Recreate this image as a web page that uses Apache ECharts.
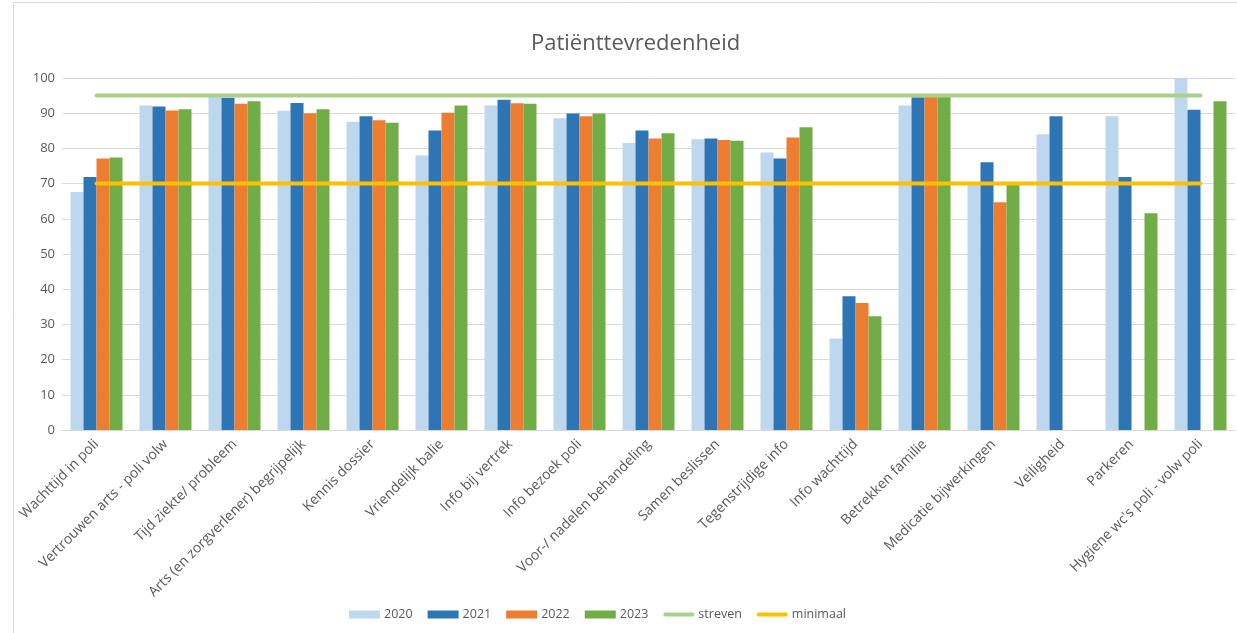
<!DOCTYPE html>
<html>
<head>
<meta charset="utf-8">
<script src="https://cdn.jsdelivr.net/npm/echarts@6/dist/echarts.min.js"></script>
<style>
html,body{margin:0;padding:0;background:#fff;}
#c{width:1237px;height:633px;}
</style>
</head>
<body>
<div id="c"></div>
<script>
const categories = ["Wachttijd in poli","Vertrouwen arts - poli volw","Tijd ziekte/ probleem","Arts (en zorgverlener) begrijpelijk","Kennis dossier","Vriendelijk balie","Info bij vertrek","Info bezoek poli","Voor-/ nadelen behandeling","Samen beslissen","Tegenstrijdige info","Info wachttijd","Betrekken familie","Medicatie bijwerkingen","Veiligheid","Parkeren","Hygiene wc's poli - volw poli"];
const v2020 = [67.6, 92.2, 94.7, 90.7, 87.6, 78.0, 92.2, 88.6, 81.5, 82.6, 78.8, 26.0, 92.2, 69.8, 84.0, 89.1, 100];
const v2021 = [71.9, 91.9, 94.4, 92.9, 89.1, 85.1, 93.8, 89.9, 85.1, 82.8, 77.1, 38.0, 94.5, 76.1, 89.1, 71.9, 91.0];
const v2022 = [77.1, 90.8, 92.7, 90.0, 88.0, 90.1, 92.8, 89.1, 82.8, 82.4, 83.1, 36.1, 94.6, 64.7, null, null, null];
const v2023 = [77.4, 91.1, 93.4, 91.1, 87.3, 92.2, 92.7, 89.9, 84.3, 82.2, 86.0, 32.3, 94.8, 70.0, null, 61.6, 93.4];
const streven = [95,95,95,95,95,95,95,95,95,95,95,95,95,95,95,95,95];
const minimaal = [70,70,70,70,70,70,70,70,70,70,70,70,70,70,70,70,70];
const yTicks = {min: 0, max: 100, interval: 10};

const chart = echarts.init(document.getElementById('c'), null, {renderer: 'canvas'});
const font = '"Open Sans", "Liberation Sans", sans-serif';
const txt = '#595959';
const lineIcon = 'path://M2,0 L30,0 C32.7,0 32.7,4 30,4 L2,4 C-0.7,4 -0.7,0 2,0 Z';
function bar(name, data, color) {
  return {name, type: 'bar', data, barWidth: 13, barGap: '0%',
    itemStyle: {color}, z: 2};
}
chart.setOption({
  animation: false,
  title: {text: 'Patiënttevredenheid', left: 526, top: 28,
    textStyle: {fontFamily: font, fontSize: 22, fontWeight: 'normal', color: txt}},
  grid: {left: 62, right: 2, top: 78, bottom: 203, containLabel: false},
  legend: {top: 608, left: 349, padding: 0, itemWidth: 31, itemHeight: 8, itemGap: 15,
    textStyle: {fontFamily: font, fontSize: 12.5, color: txt, padding: [0, 0, 0, -1]},
    data: [{name:'2020', icon:'rect'},{name:'2021', icon:'rect'},{name:'2022', icon:'rect'},{name:'2023', icon:'rect'},
      {name:'streven', icon: lineIcon},{name:'minimaal', icon: lineIcon}]},
  xAxis: {type: 'category', data: categories, boundaryGap: true,
    axisLine: {lineStyle: {color: '#d9d9d9', width: 1}},
    axisTick: {show: false},
    axisLabel: {rotate: 45, interval: 0, fontFamily: font, fontSize: 14, color: txt, margin: 12}},
  yAxis: {type: 'value', min: yTicks.min, max: yTicks.max, interval: yTicks.interval,
    axisLine: {show: false}, axisTick: {show: false},
    splitLine: {lineStyle: {color: '#d9d9d9', width: 1}},
    axisLabel: {fontFamily: font, fontSize: 13, color: txt, margin: 7}},
  series: [
    bar('2020', v2020, '#bdd7ee'),
    bar('2021', v2021, '#2e75b6'),
    bar('2022', v2022, '#ed7d31'),
    bar('2023', v2023, '#70ad47'),
    {name: 'streven', type: 'line', data: streven, symbol: 'none', showSymbol: false,
      lineStyle: {color: '#a9d18e', width: 4, cap: 'round'}, itemStyle: {color: '#a9d18e'}, z: 3},
    {name: 'minimaal', type: 'line', data: minimaal, symbol: 'none', showSymbol: false,
      lineStyle: {color: '#ffc000', width: 4, cap: 'round'}, itemStyle: {color: '#ffc000'}, z: 3}
  ],
  graphic: [{type: 'rect', left: 11, top: 0, shape: {width: 1237 - 12, height: 632},
    style: {fill: 'none', stroke: '#d9d9d9', lineWidth: 1}, silent: true, z: -1}]
});
</script>
</body>
</html>
